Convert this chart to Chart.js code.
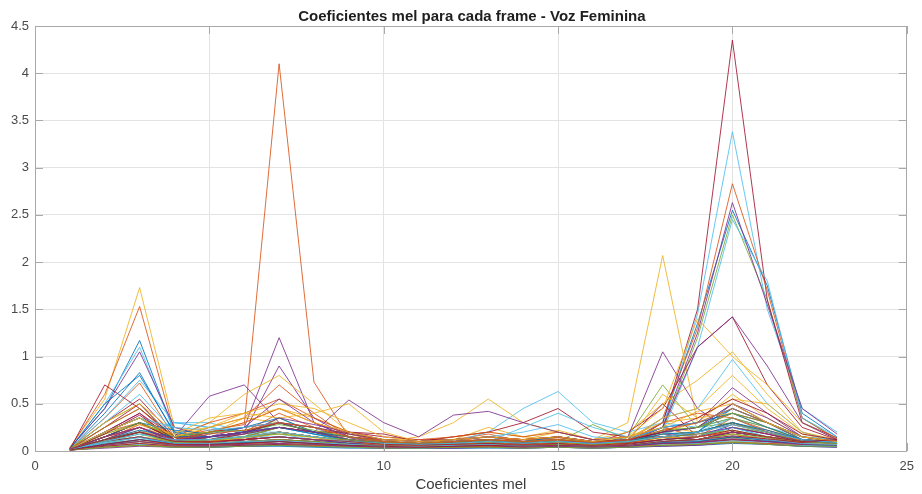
<!DOCTYPE html>
<html><head><meta charset="utf-8">
<script src="https://cdn.jsdelivr.net/npm/chart.js@4/dist/chart.umd.min.js"></script>
<style>html,body{margin:0;padding:0;background:#fff}#wrap{width:922px;height:494px}</style>
</head><body><div id="wrap"><canvas id="c" width="922" height="494"></canvas></div>
<script>
const titleText = 'Coeficientes mel para cada frame - Voz Feminina';
const xLabel = 'Coeficientes mel';
const coefIndex = [1,2,3,4,5,6,7,8,9,10,11,12,13,14,15,16,17,18,19,20,21,22,23];
const xTicks = [0,5,10,15,20,25];
const yTicks = [0,0.5,1,1.5,2,2.5,3,3.5,4,4.5];
const matlabColors = ['#0072BD','#D95319','#EDB120','#7E2F8E','#77AC30','#4DBEEE','#A2142F'];

const frame00 = [0.03,0.45,1.17,0.2,0.12,0.15,0.25,0.18,0.1,0.08,0.06,0.08,0.1,0.07,0.09,0.06,0.1,0.3,1.35,2.55,1.75,0.4,0.15];
const frame01 = [0.02,0.12,0.28,0.15,0.22,0.28,4.1,0.73,0.15,0.1,0.08,0.12,0.18,0.1,0.14,0.09,0.12,0.2,0.15,0.35,0.22,0.12,0.1];
const frame02 = [0.04,0.55,1.73,0.25,0.18,0.35,0.3,0.2,0.12,0.1,0.08,0.1,0.12,0.08,0.12,0.07,0.1,0.25,0.2,0.3,0.18,0.1,0.08];
const frame03 = [0.02,0.15,0.3,0.12,0.2,0.25,1.2,0.3,0.14,0.08,0.07,0.09,0.1,0.08,0.1,0.06,0.08,0.15,0.12,0.2,0.15,0.1,0.09];
const frame04 = [0.03,0.1,0.2,0.1,0.09,0.12,0.15,0.12,0.08,0.06,0.05,0.07,0.08,0.06,0.08,0.05,0.07,0.22,1.2,2.5,1.6,0.35,0.12];
const frame05 = [0.02,0.08,0.15,0.3,0.3,0.2,0.18,0.12,0.09,0.07,0.06,0.08,0.09,0.07,0.1,0.08,0.1,0.25,1.45,3.38,1.5,0.45,0.2];
const frame06 = [0.03,0.12,0.25,0.1,0.08,0.1,0.12,0.1,0.07,0.05,0.05,0.06,0.07,0.05,0.06,0.05,0.07,0.3,1.5,4.35,1.6,0.3,0.14];
const frame07 = [0.02,0.4,0.83,0.18,0.1,0.14,0.2,0.15,0.1,0.07,0.06,0.07,0.09,0.06,0.08,0.06,0.08,0.12,0.15,0.28,0.2,0.1,0.07];
const frame08 = [0.03,0.6,1.53,0.2,0.15,0.2,0.4,0.25,0.12,0.09,0.07,0.09,0.11,0.08,0.1,0.07,0.1,0.35,1.3,2.83,1.7,0.35,0.13];
const frame09 = [0.02,0.2,0.35,0.15,0.2,0.3,0.45,0.35,0.2,0.12,0.1,0.15,0.2,0.15,0.22,0.12,0.3,2.07,0.3,0.4,0.25,0.12,0.1];
const frame10 = [0.02,0.2,0.4,0.15,0.15,0.2,0.9,0.35,0.15,0.08,0.07,0.1,0.12,0.08,0.1,0.07,0.1,0.18,0.15,0.25,0.18,0.1,0.08];
const frame11 = [0.02,0.3,0.5,0.12,0.1,0.15,0.35,0.2,0.1,0.07,0.06,0.08,0.1,0.07,0.09,0.07,0.15,0.7,0.25,0.3,0.2,0.1,0.08];
const frame12 = [0.03,0.5,1.1,0.2,0.15,0.18,0.25,0.2,0.12,0.1,0.08,0.1,0.2,0.45,0.63,0.3,0.2,0.3,0.25,0.35,0.25,0.15,0.12];
const frame13 = [0.02,0.3,0.55,0.15,0.12,0.2,0.3,0.2,0.2,0.18,0.1,0.12,0.15,0.1,0.12,0.08,0.2,0.45,1.1,1.42,0.7,0.25,0.12];
const frame14 = [0.02,0.1,0.2,0.08,0.07,0.1,0.12,0.1,0.07,0.05,0.05,0.06,0.07,0.05,0.07,0.05,0.08,0.15,0.2,0.5,0.3,0.12,0.08];
const frame15 = [0.02,0.15,0.3,0.12,0.25,0.35,0.7,0.4,0.15,0.1,0.08,0.1,0.15,0.1,0.12,0.08,0.1,0.15,0.12,0.2,0.15,0.1,0.07];
const frame16 = [0.03,0.15,0.25,0.15,0.2,0.25,0.3,0.25,0.15,0.1,0.15,0.3,0.55,0.3,0.2,0.12,0.2,0.5,0.75,1.05,0.6,0.2,0.1];
const frame17 = [0.03,0.1,0.2,0.15,0.58,0.7,0.3,0.2,0.12,0.08,0.07,0.1,0.12,0.09,0.1,0.07,0.09,0.15,0.12,0.2,0.15,0.1,0.08];
const frame18 = [0.02,0.08,0.15,0.1,0.12,0.15,0.2,0.15,0.1,0.07,0.06,0.07,0.08,0.07,0.1,0.28,0.12,0.15,0.1,0.15,0.12,0.08,0.07];
const frame19 = [0.02,0.1,0.25,0.12,0.1,0.12,0.15,0.12,0.08,0.06,0.05,0.07,0.08,0.06,0.08,0.06,0.12,0.35,0.45,0.97,0.5,0.2,0.1];
const frame20 = [0.02,0.25,0.5,0.12,0.1,0.12,0.2,0.15,0.1,0.07,0.06,0.08,0.1,0.07,0.09,0.07,0.12,0.5,0.15,0.2,0.15,0.1,0.08];
const frame21 = [0.02,0.1,0.15,0.07,0.06,0.08,0.1,0.08,0.06,0.05,0.04,0.05,0.06,0.05,0.06,0.05,0.06,0.1,0.12,0.2,0.15,0.08,0.06];
const frame22 = [0.02,0.35,0.72,0.15,0.12,0.15,0.2,0.15,0.1,0.07,0.06,0.08,0.1,0.07,0.08,0.06,0.08,0.15,0.2,0.3,0.2,0.1,0.07];
const frame23 = [0.02,0.15,0.3,0.15,0.3,0.6,0.8,0.5,0.2,0.12,0.1,0.12,0.15,0.12,0.15,0.1,0.12,0.2,0.3,0.6,0.35,0.15,0.1];
const frame24 = [0.02,0.12,0.25,0.1,0.1,0.12,0.2,0.15,0.1,0.07,0.06,0.08,0.1,0.08,0.1,0.07,0.15,1.05,0.45,0.2,0.15,0.08,0.07];
const frame25 = [0.02,0.07,0.12,0.07,0.06,0.08,0.1,0.08,0.06,0.05,0.04,0.05,0.06,0.05,0.06,0.05,0.06,0.1,0.1,0.15,0.12,0.07,0.06];
const frame26 = [0.02,0.35,0.75,0.3,0.25,0.2,0.2,0.15,0.1,0.08,0.07,0.08,0.1,0.1,0.15,0.1,0.12,0.2,1.1,2.45,1.8,0.35,0.15];
const frame27 = [0.02,0.2,0.4,0.1,0.09,0.12,0.15,0.12,0.08,0.06,0.05,0.07,0.08,0.06,0.08,0.06,0.08,0.12,0.15,0.25,0.18,0.1,0.07];
const frame28 = [0.02,0.2,0.35,0.12,0.1,0.12,0.15,0.12,0.08,0.06,0.05,0.06,0.08,0.06,0.07,0.05,0.07,0.12,0.2,0.45,0.3,0.12,0.07];
const frame29 = [0.03,0.2,0.35,0.15,0.3,0.4,0.55,0.35,0.2,0.1,0.08,0.1,0.12,0.1,0.15,0.08,0.1,0.2,0.25,0.5,0.3,0.12,0.09];
const frame30 = [0.02,0.12,0.2,0.12,0.15,0.2,0.25,0.2,0.15,0.1,0.08,0.12,0.25,0.15,0.12,0.1,0.15,0.45,1.4,1.0,0.7,0.3,0.12];
const frame31 = [0.02,0.15,0.25,0.1,0.1,0.12,0.15,0.12,0.08,0.06,0.05,0.07,0.08,0.06,0.07,0.06,0.1,0.25,1.25,2.63,1.55,0.45,0.18];
const frame32 = [0.02,0.15,0.3,0.12,0.1,0.15,0.2,0.15,0.1,0.07,0.06,0.07,0.08,0.06,0.08,0.06,0.08,0.12,0.15,0.25,0.2,0.1,0.08];
const frame33 = [0.02,0.3,0.6,0.2,0.15,0.15,0.3,0.25,0.1,0.08,0.07,0.08,0.1,0.08,0.12,0.08,0.1,0.15,0.2,0.35,0.2,0.12,0.09];
const frame34 = [0.02,0.15,0.3,0.12,0.2,0.25,0.3,0.2,0.2,0.15,0.12,0.12,0.15,0.12,0.15,0.1,0.12,0.2,0.25,0.4,0.3,0.15,0.1];
const frame35 = [0.03,0.08,0.1,0.06,0.05,0.06,0.07,0.06,0.05,0.04,0.04,0.04,0.05,0.04,0.05,0.04,0.05,0.08,0.08,0.12,0.1,0.06,0.05];
const frame36 = [0.02,0.1,0.2,0.1,0.12,0.15,0.25,0.2,0.12,0.08,0.07,0.08,0.1,0.08,0.1,0.07,0.1,0.15,0.2,0.28,0.2,0.1,0.08];
const frame37 = [0.03,0.3,0.5,0.2,0.25,0.4,0.5,0.45,0.3,0.15,0.1,0.12,0.15,0.12,0.2,0.12,0.15,0.3,0.35,0.55,0.5,0.2,0.12];
const frame38 = [0.02,0.2,0.35,0.15,0.15,0.25,0.55,0.3,0.15,0.1,0.08,0.1,0.12,0.1,0.12,0.08,0.12,0.25,0.3,0.67,0.4,0.15,0.1];
const frame39 = [0.03,0.25,0.45,0.15,0.12,0.18,0.3,0.2,0.12,0.08,0.07,0.08,0.1,0.08,0.1,0.08,0.1,0.2,0.25,0.35,0.25,0.12,0.09];
const frame40 = [0.02,0.12,0.2,0.3,0.25,0.2,0.25,0.18,0.12,0.08,0.07,0.08,0.1,0.08,0.1,0.08,0.1,0.15,0.2,0.3,0.2,0.12,0.1];
const frame41 = [0.02,0.7,0.45,0.15,0.12,0.15,0.2,0.15,0.1,0.07,0.06,0.08,0.1,0.07,0.08,0.06,0.08,0.15,0.2,0.3,0.2,0.12,0.09];
const frame42 = [0.02,0.5,0.8,0.2,0.15,0.2,0.3,0.2,0.12,0.08,0.07,0.08,0.1,0.08,0.1,0.07,0.1,0.2,0.25,0.45,0.3,0.15,0.1];
const frame43 = [0.02,0.1,0.15,0.08,0.07,0.08,0.1,0.08,0.06,0.05,0.05,0.05,0.06,0.05,0.06,0.05,0.06,0.1,0.12,0.18,0.12,0.08,0.06];
const frame44 = [0.02,0.1,0.15,0.1,0.1,0.15,0.2,0.15,0.1,0.07,0.06,0.08,0.1,0.07,0.08,0.06,0.1,0.6,0.35,0.4,0.25,0.1,0.08];
const frame45 = [0.03,0.45,1.05,0.25,0.15,0.2,0.25,0.2,0.12,0.08,0.07,0.1,0.12,0.1,0.12,0.08,0.1,0.25,1.1,1.42,0.9,0.3,0.12];
const frame46 = [0.02,0.2,0.35,0.12,0.1,0.15,0.25,0.2,0.12,0.08,0.06,0.08,0.1,0.08,0.1,0.07,0.1,0.18,0.2,0.3,0.2,0.1,0.08];
const frame47 = [0.02,0.1,0.15,0.08,0.07,0.1,0.12,0.1,0.07,0.06,0.05,0.06,0.07,0.06,0.07,0.06,0.07,0.12,0.15,0.25,0.15,0.08,0.07];
const frame48 = [0.02,0.15,0.3,0.12,0.12,0.18,0.25,0.2,0.15,0.12,0.1,0.15,0.2,0.3,0.45,0.2,0.15,0.15,0.12,0.2,0.15,0.1,0.08];
const frame49 = [0.01,0.05,0.08,0.05,0.04,0.05,0.06,0.05,0.04,0.03,0.03,0.03,0.04,0.03,0.04,0.03,0.04,0.06,0.07,0.1,0.08,0.05,0.05];
const frame50 = [0.02,0.2,0.3,0.15,0.1,0.12,0.15,0.12,0.12,0.1,0.12,0.15,0.2,0.15,0.2,0.12,0.15,0.25,0.15,0.2,0.15,0.12,0.1];
const frame51 = [0.02,0.08,0.12,0.08,0.08,0.1,0.12,0.1,0.07,0.06,0.05,0.06,0.07,0.06,0.07,0.05,0.06,0.1,0.12,0.18,0.12,0.08,0.06];
const frame52 = [0.02,0.1,0.2,0.1,0.15,0.2,0.3,0.2,0.54,0.3,0.15,0.38,0.42,0.3,0.2,0.12,0.1,0.15,0.12,0.2,0.15,0.1,0.08];
const frame53 = [0.02,0.06,0.1,0.06,0.05,0.06,0.08,0.07,0.05,0.04,0.04,0.05,0.05,0.04,0.05,0.04,0.05,0.08,0.1,0.14,0.1,0.07,0.06];
const frame54 = [0.02,0.08,0.12,0.1,0.12,0.15,0.15,0.12,0.1,0.08,0.07,0.08,0.1,0.25,0.4,0.25,0.15,0.2,0.15,0.25,0.15,0.1,0.08];
const frame55 = [0.02,0.1,0.15,0.08,0.08,0.1,0.12,0.1,0.07,0.06,0.05,0.06,0.07,0.06,0.07,0.05,0.07,0.12,0.1,0.15,0.12,0.08,0.12];
const frame56 = [0.01,0.04,0.06,0.04,0.04,0.05,0.05,0.04,0.03,0.03,0.03,0.03,0.03,0.03,0.04,0.03,0.04,0.05,0.06,0.08,0.07,0.05,0.04];
const frame57 = [0.02,0.06,0.1,0.07,0.08,0.09,0.1,0.08,0.06,0.05,0.05,0.06,0.07,0.05,0.06,0.05,0.06,0.09,0.1,0.12,0.1,0.08,0.07];
const frame58 = [0.01,0.05,0.08,0.06,0.06,0.07,0.08,0.07,0.05,0.04,0.04,0.05,0.05,0.04,0.05,0.04,0.05,0.07,0.08,0.1,0.08,0.06,0.05];
const frame59 = [0.01,0.03,0.05,0.04,0.04,0.05,0.06,0.05,0.04,0.03,0.03,0.03,0.04,0.03,0.04,0.03,0.04,0.05,0.06,0.09,0.07,0.05,0.04];
const frame60 = [0.02,0.1,0.18,0.09,0.08,0.1,0.12,0.1,0.07,0.05,0.05,0.06,0.07,0.05,0.07,0.05,0.06,0.1,0.12,0.18,0.14,0.09,0.07];
const frame61 = [0.01,0.04,0.07,0.05,0.05,0.06,0.07,0.06,0.04,0.04,0.03,0.04,0.05,0.04,0.05,0.04,0.05,0.07,0.08,0.11,0.09,0.06,0.05];
const frame62 = [0.01,0.05,0.08,0.05,0.05,0.06,0.07,0.06,0.05,0.04,0.04,0.04,0.05,0.04,0.05,0.04,0.05,0.08,0.09,0.12,0.1,0.08,0.1];
const frame63 = [0.02,0.07,0.12,0.08,0.07,0.09,0.1,0.08,0.06,0.05,0.04,0.05,0.06,0.05,0.06,0.04,0.05,0.09,0.1,0.15,0.11,0.07,0.06];
const frame64 = [0.01,0.04,0.06,0.05,0.06,0.07,0.08,0.06,0.05,0.04,0.04,0.04,0.05,0.04,0.05,0.04,0.05,0.06,0.07,0.09,0.08,0.07,0.09];
const frame65 = [0.02,0.12,0.22,0.1,0.1,0.14,0.18,0.14,0.1,0.07,0.06,0.07,0.09,0.07,0.09,0.06,0.08,0.14,0.15,0.22,0.15,0.09,0.07];
const frame66 = [0.01,0.06,0.1,0.06,0.06,0.07,0.08,0.07,0.05,0.04,0.04,0.05,0.06,0.04,0.05,0.04,0.05,0.08,0.09,0.13,0.1,0.07,0.06];
const frame67 = [0.01,0.04,0.06,0.04,0.04,0.05,0.06,0.05,0.04,0.03,0.03,0.04,0.04,0.03,0.04,0.03,0.04,0.06,0.07,0.09,0.07,0.05,0.05];
const frame68 = [0.02,0.09,0.14,0.08,0.08,0.1,0.11,0.09,0.07,0.05,0.05,0.06,0.07,0.05,0.06,0.05,0.06,0.1,0.11,0.16,0.12,0.08,0.07];
const frame69 = [0.01,0.07,0.12,0.07,0.07,0.08,0.1,0.08,0.06,0.05,0.04,0.05,0.06,0.05,0.06,0.05,0.06,0.1,0.12,0.16,0.13,0.09,0.11];
const frame70 = [0.02,0.15,0.3,0.22,0.18,0.25,0.35,0.2,0.15,0.1,0.08,0.1,0.12,0.1,0.15,0.1,0.12,0.25,0.3,0.4,0.25,0.12,0.1];
const frame71 = [0.02,0.25,0.45,0.12,0.2,0.3,0.45,0.3,0.18,0.1,0.08,0.1,0.12,0.1,0.12,0.09,0.1,0.3,0.4,0.35,0.2,0.12,0.1];
const frame72 = [0.02,0.18,0.28,0.18,0.35,0.4,0.35,0.4,0.5,0.2,0.1,0.12,0.15,0.12,0.15,0.1,0.12,0.35,0.45,0.8,0.45,0.18,0.1];
const frame73 = [0.02,0.12,0.2,0.12,0.15,0.18,0.35,0.28,0.2,0.12,0.1,0.12,0.15,0.12,0.15,0.1,0.12,0.2,0.25,0.5,0.35,0.15,0.1];
const frame74 = [0.02,0.18,0.3,0.15,0.2,0.22,0.28,0.22,0.15,0.1,0.08,0.1,0.12,0.1,0.12,0.1,0.12,0.22,0.25,0.4,0.3,0.15,0.1];
const frame75 = [0.02,0.2,0.35,0.25,0.22,0.25,0.3,0.25,0.18,0.12,0.1,0.12,0.15,0.2,0.28,0.15,0.12,0.25,0.3,0.45,0.3,0.15,0.12];
const frame76 = [0.02,0.18,0.38,0.12,0.15,0.2,0.3,0.25,0.18,0.12,0.1,0.12,0.15,0.12,0.15,0.1,0.12,0.2,0.35,0.55,0.4,0.18,0.12];
const frame77 = [0.02,0.12,0.22,0.15,0.15,0.2,0.25,0.18,0.12,0.08,0.07,0.08,0.1,0.08,0.1,0.08,0.1,0.18,0.2,0.3,0.22,0.12,0.09];
const frame78 = [0.02,0.15,0.25,0.12,0.18,0.22,0.3,0.25,0.15,0.1,0.08,0.1,0.12,0.1,0.12,0.09,0.12,0.22,0.3,0.45,0.3,0.15,0.1];
const frame79 = [0.02,0.2,0.35,0.15,0.25,0.35,0.45,0.3,0.2,0.12,0.1,0.12,0.15,0.12,0.15,0.1,0.15,0.25,0.42,0.5,0.3,0.15,0.1];
const frame80 = [0.02,0.15,0.25,0.12,0.15,0.2,0.25,0.2,0.12,0.08,0.07,0.08,0.1,0.08,0.1,0.08,0.1,0.15,0.18,0.25,0.18,0.1,0.08];
const frame81 = [0.02,0.12,0.2,0.1,0.12,0.15,0.18,0.15,0.12,0.08,0.07,0.08,0.1,0.08,0.1,0.07,0.1,0.15,0.18,0.22,0.15,0.1,0.08];
const frame82 = [0.02,0.1,0.18,0.12,0.12,0.15,0.2,0.15,0.1,0.08,0.07,0.08,0.1,0.08,0.1,0.08,0.1,0.15,0.2,0.28,0.2,0.12,0.09];
const frame83 = [0.02,0.12,0.2,0.1,0.1,0.12,0.15,0.12,0.1,0.07,0.06,0.07,0.08,0.07,0.08,0.06,0.08,0.12,0.15,0.22,0.15,0.1,0.12];

const frames = [frame00,frame01,frame02,frame03,frame04,frame05,frame06,frame07,frame08,frame09,
  frame10,frame11,frame12,frame13,frame14,frame15,frame16,frame17,frame18,frame19,
  frame20,frame21,frame22,frame23,frame24,frame25,frame26,frame27,frame28,frame29,
  frame30,frame31,frame32,frame33,frame34,frame35,frame36,frame37,frame38,frame39,
  frame40,frame41,frame42,frame43,frame44,frame45,frame46,frame47,frame48,frame49,
  frame50,frame51,frame52,frame53,frame54,frame55,frame56,frame57,frame58,frame59,
  frame60,frame61,frame62,frame63,frame64,frame65,frame66,frame67,frame68,frame69,
  frame70,frame71,frame72,frame73,frame74,frame75,frame76,frame77,frame78,frame79,
  frame80,frame81,frame82,frame83];

const FONT = '"Liberation Sans", Arial, Helvetica, sans-serif';
const AXIS_COLOR = '#a9a9a9';
const TEXT_COLOR = '#4a4a4a';

function withAlpha(hex, a) {
  const n = parseInt(hex.slice(1), 16);
  return 'rgba(' + ((n >> 16) & 255) + ',' + ((n >> 8) & 255) + ',' + (n & 255) + ',' + a + ')';
}

const datasets = frames.map((f, i) => ({
  label: 'frame ' + (i + 1),
  data: coefIndex.map((x, j) => ({x: x, y: f[j]})),
  borderColor: withAlpha(matlabColors[i % matlabColors.length], 0.85),
  borderWidth: 1,
  pointRadius: 0,
  pointHoverRadius: 0,
  tension: 0,
  fill: false,
  order: frames.length - i
}));

const matlabBox = {
  id: 'matlabBox',
  afterDatasetsDraw(chart) {
    const {ctx, chartArea: a, scales} = chart;
    const sx = scales.x, sy = scales.y;
    ctx.save();
    ctx.strokeStyle = AXIS_COLOR;
    ctx.lineWidth = 1;
    ctx.beginPath();
    ctx.rect(Math.round(a.left) + 0.5, Math.round(a.top) + 0.5,
             Math.round(a.right) - Math.round(a.left) - 1, Math.round(a.bottom) - Math.round(a.top));
    const tl = 8;
    xTicks.forEach(v => {
      const px = Math.round(sx.getPixelForValue(v)) + 0.5;
      ctx.moveTo(px, a.bottom); ctx.lineTo(px, a.bottom - tl);
      ctx.moveTo(px, a.top); ctx.lineTo(px, a.top + tl);
    });
    yTicks.forEach(v => {
      const py = Math.round(sy.getPixelForValue(v)) + 0.5;
      ctx.moveTo(a.left, py); ctx.lineTo(a.left + tl, py);
      ctx.moveTo(a.right, py); ctx.lineTo(a.right - tl, py);
    });
    ctx.stroke();
    ctx.fillStyle = '#1e1e1e';
    ctx.font = 'bold 15px ' + FONT;
    ctx.textAlign = 'center';
    ctx.textBaseline = 'alphabetic';
    ctx.fillText(titleText, (a.left + a.right) / 2 + 1, 21);
    ctx.restore();
  }
};

new Chart(document.getElementById('c'), {
  type: 'line',
  data: { datasets },
  options: {
    responsive: false,
    animation: false,
    devicePixelRatio: 1,
    events: [],
    layout: { padding: { top: 26, right: 7, left: 0, bottom: 0 } },
    plugins: { legend: { display: false }, tooltip: { enabled: false }, title: { display: false } },
    scales: {
      x: {
        type: 'linear', min: 0, max: 25,
        afterFit: s => { s.height = 43; },
        afterBuildTicks: s => { s.ticks = xTicks.map(v => ({value: v})); },
        ticks: { font: { family: FONT, size: 13 }, color: TEXT_COLOR, padding: 8, maxRotation: 0, autoSkip: false,
                 callback: v => String(v) },
        grid: { color: '#e3e3e3', drawTicks: false, lineWidth: 1 },
        border: { display: false },
        title: { display: true, text: xLabel, font: { family: FONT, size: 15 }, color: '#3a3a3a', padding: { top: 0, bottom: 0 } }
      },
      y: {
        type: 'linear', min: 0, max: 4.5,
        afterFit: s => { s.width = 35; },
        afterBuildTicks: s => { s.ticks = yTicks.map(v => ({value: v})); },
        ticks: { font: { family: FONT, size: 13 }, color: TEXT_COLOR, padding: 6, autoSkip: false,
                 callback: v => String(v) },
        grid: { color: '#e3e3e3', drawTicks: false, lineWidth: 1 },
        border: { display: false }
      }
    }
  },
  plugins: [matlabBox]
});
</script></body></html>
